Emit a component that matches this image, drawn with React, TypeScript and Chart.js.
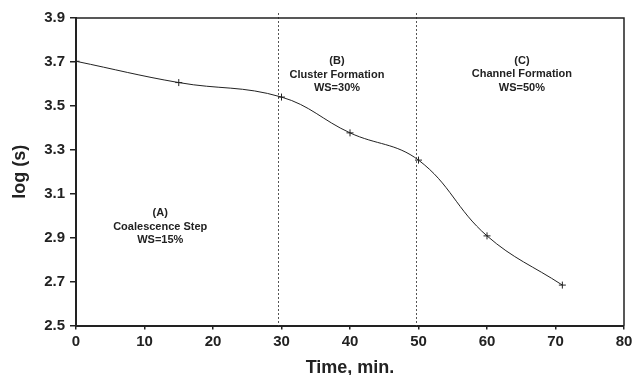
import React, { useEffect, useRef } from "react";
import { Chart, registerables } from "chart.js";

Chart.register(...registerables);

// Measured series: log of surface value over time
const timeMin = [0, 15, 30, 40, 50, 60, 71];
const logS = [3.703, 3.606, 3.54, 3.377, 3.253, 2.908, 2.684];

// Axis ticks
const xTicks = [0, 10, 20, 30, 40, 50, 60, 70, 80];
const yTicks = [2.5, 2.7, 2.9, 3.1, 3.3, 3.5, 3.7, 3.9];

// Stage boundaries (minutes)
const stageBounds = [29.5, 49.6];

// Stage captions: anchor in data units (x, y of first line)
const stageLabels = [
  { x: 12.3, y: 3.012, lines: ["(A)", "Coalescence Step", "WS=15%"] },
  { x: 38.1, y: 3.703, lines: ["(B)", "Cluster Formation", "WS=30%"] },
  { x: 65.1, y: 3.705, lines: ["(C)", "Channel Formation", "WS=50%"] },
];

const FONT = "'Liberation Sans', Arial, sans-serif";
const INK = "#222";

const framePlugin = {
  id: "frame",
  beforeDatasetsDraw(chart: any) {
    const { ctx, chartArea, scales } = chart;
    ctx.save();
    ctx.strokeStyle = "#555";
    ctx.lineWidth = 1;
    ctx.setLineDash([2, 2]);
    stageBounds.forEach((b) => {
      const x = Math.round(scales.x.getPixelForValue(b)) + 0.5;
      ctx.beginPath();
      ctx.moveTo(x, chartArea.top - 5);
      ctx.lineTo(x, chartArea.bottom);
      ctx.stroke();
    });
    ctx.restore();
  },
  afterDatasetsDraw(chart: any) {
    const { ctx, chartArea, scales } = chart;
    ctx.save();
    // top and right edges of the plot box
    ctx.strokeStyle = INK;
    ctx.lineWidth = 1.5;
    ctx.beginPath();
    ctx.moveTo(chartArea.left, chartArea.top);
    ctx.lineTo(chartArea.right, chartArea.top);
    ctx.lineTo(chartArea.right, chartArea.bottom);
    ctx.stroke();

    ctx.fillStyle = INK;
    ctx.font = `bold 11px ${FONT}`;
    ctx.textAlign = "center";
    ctx.textBaseline = "middle";
    stageLabels.forEach((s) => {
      const x = scales.x.getPixelForValue(s.x);
      const y0 = scales.y.getPixelForValue(s.y);
      s.lines.forEach((t, i) => ctx.fillText(t, x, y0 + i * 13.5));
    });
    ctx.restore();
  },
};

export default function App() {
  const canvasRef = useRef<HTMLCanvasElement | null>(null);

  useEffect(() => {
    if (!canvasRef.current) return;
    const chart = new Chart(canvasRef.current, {
      type: "line",
      data: {
        datasets: [
          {
            data: timeMin.map((t, i) => ({ x: t, y: logS[i] })),
            borderColor: INK,
            borderWidth: 1,
            tension: 0.4,
            pointStyle: "cross",
            pointRadius: 3.5,
            pointBorderWidth: 1,
            pointBorderColor: INK,
            fill: false,
          },
        ],
      },
      options: {
        animation: false,
        responsive: false,
        maintainAspectRatio: false,
        layout: { padding: { top: 18, right: 16, left: 0, bottom: 0 } },
        plugins: {
          legend: { display: false },
          tooltip: { enabled: false },
        },
        scales: {
          x: {
            type: "linear",
            min: 0,
            max: 80,
            afterBuildTicks: (scale: any) => {
              scale.ticks = xTicks.map((v) => ({ value: v }));
            },
            afterFit: (scale: any) => {
              scale.height = 49.5;
            },
            ticks: {
              color: INK,
              font: { family: FONT, size: 15, weight: "bold" },
              padding: 3,
              maxRotation: 0,
            },
            grid: {
              drawOnChartArea: false,
              drawTicks: true,
              tickLength: 4,
              color: INK,
              lineWidth: 1.5,
            },
            border: { display: true, color: INK, width: 2 },
            title: {
              display: true,
              text: "Time, min.",
              color: INK,
              font: { family: FONT, size: 18, weight: "bold" },
              padding: { top: 0, bottom: -4 },
            },
          },
          y: {
            type: "linear",
            min: 2.5,
            max: 3.9,
            afterBuildTicks: (scale: any) => {
              scale.ticks = yTicks.map((v) => ({ value: v }));
            },
            afterFit: (scale: any) => {
              scale.width = 76;
            },
            ticks: {
              color: INK,
              font: { family: FONT, size: 15, weight: "bold" },
              padding: 5,
              callback: (v: any) => Number(v).toFixed(1),
            },
            grid: {
              drawOnChartArea: false,
              drawTicks: true,
              tickLength: 6,
              color: INK,
              lineWidth: 1.5,
            },
            border: { display: true, color: INK, width: 2 },
            title: {
              display: true,
              text: "log (s)",
              color: INK,
              font: { family: FONT, size: 18, weight: "bold" },
              padding: { top: 9, bottom: 0 },
            },
          },
        },
      },
      plugins: [framePlugin],
    });
    return () => chart.destroy();
  }, []);

  return (
    <div style={{ position: "absolute", left: 0, top: 0, width: 640, height: 375, background: "#fff" }}>
      <canvas ref={canvasRef} width={640} height={375} style={{ width: 640, height: 375 }} />
    </div>
  );
}
